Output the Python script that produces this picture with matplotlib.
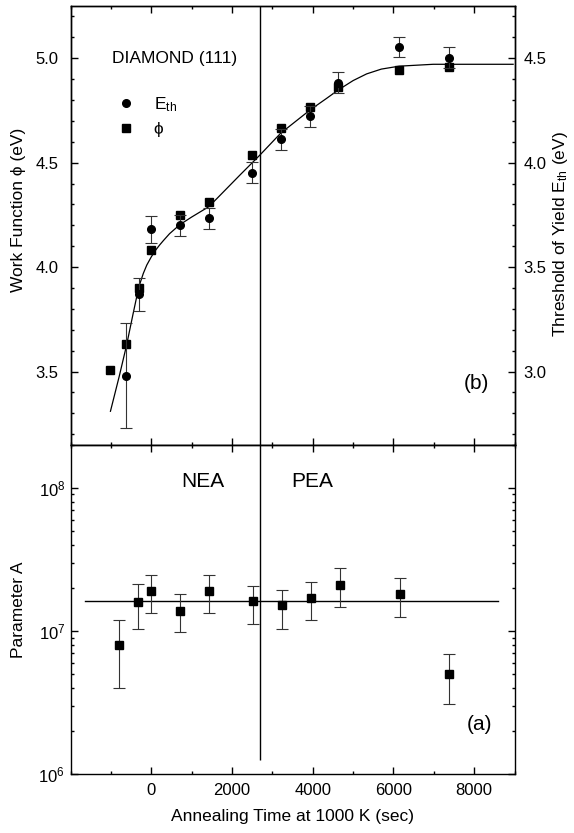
import matplotlib
matplotlib.use("Agg")
import matplotlib.pyplot as plt
from matplotlib.lines import Line2D
from matplotlib.ticker import MultipleLocator, LogLocator, NullFormatter

plt.rcParams['font.family'] = ['Liberation Sans', 'DejaVu Sans']
plt.rcParams['mathtext.fontset'] = 'custom'
plt.rcParams['mathtext.rm'] = 'Liberation Sans'
plt.rcParams['mathtext.it'] = 'Liberation Sans:italic'
plt.rcParams['mathtext.bf'] = 'Liberation Sans:bold'

# ---------------- data (b): work function / threshold ----------------
phi_x = [-1015, -619, -312, 0, 703, 1429, 2502, 3220, 3931, 4632, 6143, 7373]
phi_y = [3.508, 3.631, 3.899, 4.082, 4.251, 4.313, 4.539, 4.664, 4.766, 4.860, 4.946, 4.958]

eth_x = [-619, -312, 0, 703, 1429, 2502, 3220, 3931, 4632, 6143, 7373]
eth_y = [2.981, 3.370, 3.681, 3.701, 3.733, 3.951, 4.111, 4.223, 4.382, 4.554, 4.503]
eth_err = [0.25, 0.08, 0.065, 0.05, 0.05, 0.05, 0.05, 0.05, 0.05, 0.05, 0.05]

fit_x = [-1015, -800, -619, -450, -312, -200, -114, 0, 100, 200, 297, 450, 703, 1000,
         1429, 2201, 2692, 3204, 3931, 4344, 4632, 5000, 5335, 5700, 6143, 6985, 8966]
fit_y = [3.31, 3.475, 3.623, 3.78, 3.905, 3.97, 4.01, 4.05, 4.08, 4.105, 4.127, 4.16,
         4.203, 4.24, 4.29, 4.442, 4.537, 4.641, 4.752, 4.808, 4.848, 4.893, 4.925,
         4.948, 4.962, 4.971, 4.971]

# ---------------- data (a): parameter A ----------------
a_x = [-815, -320, 0, 718, 1429, 2511, 3229, 3947, 4666, 6168, 7365]
a_y = [8.0e6, 1.59e7, 1.89e7, 1.39e7, 1.89e7, 1.61e7, 1.51e7, 1.71e7, 2.10e7, 1.81e7, 5.0e6]
a_hi = [1.2e7, 2.14e7, 2.46e7, 1.80e7, 2.46e7, 2.07e7, 1.93e7, 2.19e7, 2.74e7, 2.33e7, 6.9e6]
a_lo = [4.0e6, 1.04e7, 1.34e7, 9.8e6, 1.34e7, 1.12e7, 1.04e7, 1.19e7, 1.47e7, 1.26e7, 3.1e6]

afit_x = [-1640, 8594]
afit_y = [1.62e7, 1.62e7]

boundary_x = 2700
x_ticks = [0, 2000, 4000, 6000, 8000]

# ---------------- figure ----------------
fig = plt.figure(figsize=(5.74, 8.33), dpi=100)
L, W = 70.7 / 574, (514.5 - 70.7) / 574
ax_b = fig.add_axes([L, 1 - 444.7 / 833, W, (444.7 - 6) / 833])
ax_a = fig.add_axes([L, 1 - 774.3 / 833, W, (774.3 - 444.7) / 833], sharex=ax_b)
ax_r = ax_b.twinx()

lw_ax = 1.0
fs_tick = 12
fs_lab = 12.5

for ax in (ax_b, ax_a, ax_r):
    for s in ax.spines.values():
        s.set_linewidth(lw_ax)

# ---------------- panel (b) ----------------
ax_b.set_xlim(-2000, 9000)
ax_b.set_ylim(3.15, 5.25)
ax_r.set_ylim(2.65, 4.75)

ax_b.plot(fit_x, fit_y, color='black', lw=0.9, zorder=2)
ax_b.plot(phi_x, phi_y, ls='none', marker='s', ms=5.2, color='black', zorder=3)
ax_r.errorbar(eth_x, eth_y, yerr=eth_err, fmt='o', ms=5.5, color='black',
              ecolor='#333333', elinewidth=0.8, capsize=4.5, capthick=0.8, zorder=3)
ax_b.axvline(boundary_x, color='black', lw=1.0, zorder=1)

ax_b.yaxis.set_minor_locator(MultipleLocator(0.1))
ax_r.yaxis.set_minor_locator(MultipleLocator(0.1))
ax_b.set_yticks([3.5, 4.0, 4.5, 5.0])
ax_b.set_yticklabels(['3.5', '4.0', '4.5', '5.0'])
ax_r.set_yticks([3.0, 3.5, 4.0, 4.5])
ax_r.set_yticklabels(['3.0', '3.5', '4.0', '4.5'])

ax_b.xaxis.set_major_locator(MultipleLocator(2000))
ax_b.xaxis.set_minor_locator(MultipleLocator(1000))
ax_b.tick_params(axis='x', which='both', direction='in', top=True, bottom=True,
                 labelbottom=False)
ax_b.tick_params(axis='y', which='both', direction='in', left=True, right=False,
                 labelsize=fs_tick, pad=9)
ax_b.tick_params(which='major', length=5, width=1.0)
ax_b.tick_params(which='minor', length=2.5, width=1.0)
ax_r.tick_params(axis='y', which='both', direction='in', right=True, labelsize=fs_tick, pad=6.5)
ax_r.tick_params(which='major', length=5, width=1.0)
ax_r.tick_params(which='minor', length=2.5, width=1.0)

ax_b.set_ylabel('Work Function ϕ (eV)', fontsize=fs_lab)
ax_b.yaxis.set_label_coords(-0.10, 0.535)
ax_r.set_ylabel('Threshold of Yield E$_{\\mathrm{th}}$ (eV)', fontsize=fs_lab)
ax_r.yaxis.set_label_coords(1.082, 0.479)

ax_b.text(-980, 5.0, 'DIAMOND (111)', fontsize=12.5, ha='left', va='center')
ax_b.text(8059, 3.444, '(b)', fontsize=15, ha='center', va='center')

handles = [Line2D([], [], ls='none', marker='o', ms=5.5, color='black'),
           Line2D([], [], ls='none', marker='s', ms=5.2, color='black')]
ax_b.legend(handles, ['E$_{\\mathrm{th}}$', 'ϕ'], loc='center left',
            bbox_to_anchor=(0.105, 0.749), frameon=False, fontsize=12.5,
            handlelength=1.0, handletextpad=1.1, borderpad=0, borderaxespad=0,
            labelspacing=0.45)

# ---------------- panel (a) ----------------
ax_a.set_yscale('log')
ax_a.set_ylim(1e6, 2e8)
err_lo = [y - lo for y, lo in zip(a_y, a_lo)]
err_hi = [hi - y for y, hi in zip(a_y, a_hi)]
ax_a.errorbar(a_x, a_y, yerr=[err_lo, err_hi], fmt='s', ms=5.2, color='black',
              ecolor='#333333', elinewidth=0.8, capsize=4.5, capthick=0.8, zorder=3)
ax_a.plot(afit_x, afit_y, color='black', lw=1.0, zorder=2)
ax_a.vlines(boundary_x, 1.25e6, 2e8, color='black', lw=1.0, zorder=1)

ax_a.yaxis.set_major_locator(LogLocator(base=10, numticks=10))
ax_a.yaxis.set_minor_locator(LogLocator(base=10, subs=range(2, 10), numticks=20))
ax_a.yaxis.set_minor_formatter(NullFormatter())
ax_a.set_xticks(x_ticks)
ax_a.set_xticklabels([str(v) for v in x_ticks])
ax_a.xaxis.set_minor_locator(MultipleLocator(1000))
ax_a.tick_params(which='both', direction='in', top=True, right=True, bottom=True, left=True)
ax_a.tick_params(which='major', length=5, width=1.0, labelsize=fs_tick)
ax_a.tick_params(which='minor', length=2.5, width=1.0)
ax_a.tick_params(axis='x', pad=6)
ax_a.tick_params(axis='y', pad=4)

ax_a.set_ylabel('Parameter A', fontsize=fs_lab)
ax_a.yaxis.set_label_coords(-0.10, 0.5)
ax_a.set_xlabel('Annealing Time at 1000 K (sec)', fontsize=fs_lab, labelpad=8)

ax_a.text(1280, 1.1e8, 'NEA', fontsize=15, ha='center', va='center')
ax_a.text(3980, 1.1e8, 'PEA', fontsize=15, ha='center', va='center')
ax_a.text(8141, 2.21e6, '(a)', fontsize=15, ha='center', va='center')

fig.savefig('out.png', dpi=100)
